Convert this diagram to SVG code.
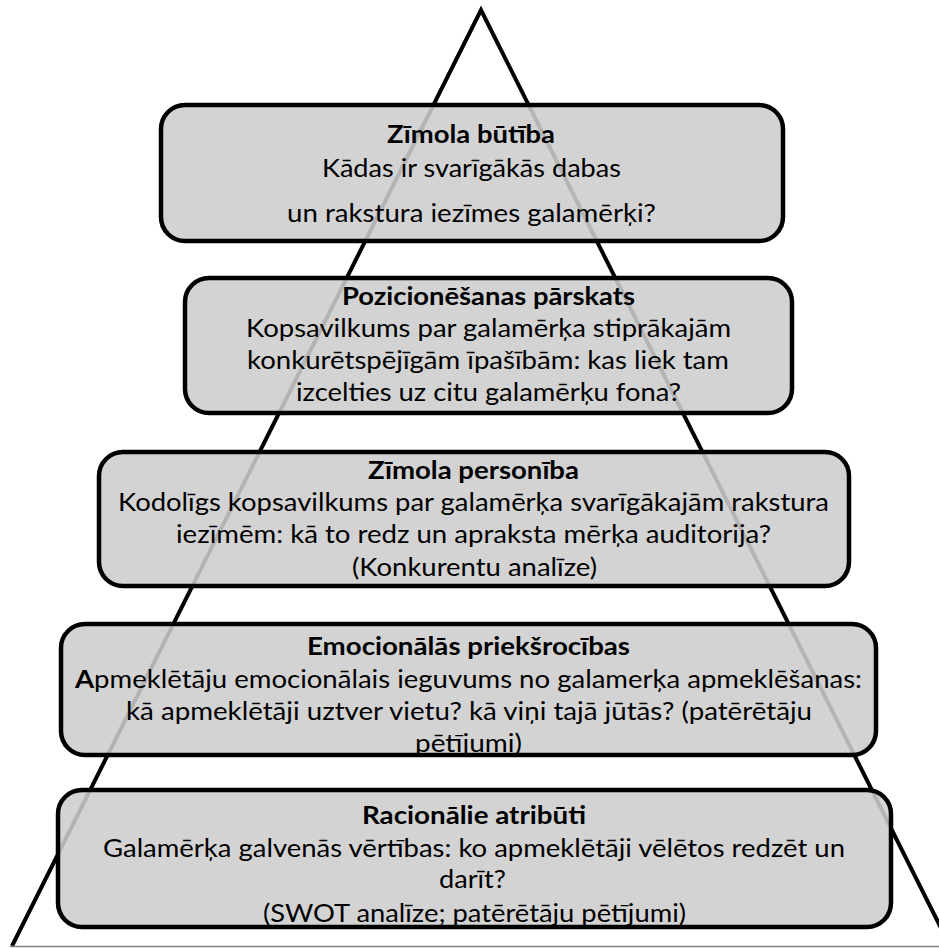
<svg xmlns="http://www.w3.org/2000/svg" width="939" height="948" viewBox="0 0 939 948">
<style>
.box{fill:#cdcdcd;fill-opacity:0.88;stroke:#000;stroke-width:4.5}
.t{font-family:Lato,"Liberation Sans",sans-serif;font-size:25px;fill:#000;text-anchor:middle}
.b{font-weight:bold}
</style>
<rect x="0" y="0" width="939" height="948" fill="#fff"/>
<g id="pyramid">
<polyline points="12,946 481,10 950,946" fill="none" stroke="#000" stroke-width="4" stroke-linejoin="miter"/>
<line x1="10" y1="946.5" x2="939" y2="946.5" stroke="#808080" stroke-width="1.5"/>
</g>
<g id="node-butiba">
<rect class="box" x="161" y="105" width="622" height="136" rx="24"/>
<text class="t b" x="471" y="143" textLength="168" lengthAdjust="spacingAndGlyphs">Zīmola būtība</text>
<text class="t" x="471.5" y="177" textLength="299" lengthAdjust="spacingAndGlyphs">Kādas ir svarīgākās dabas</text>
<text class="t" x="471.5" y="222" textLength="369" lengthAdjust="spacingAndGlyphs">un rakstura iezīmes galamērķi?</text>
</g>
<g id="node-pozicionesana">
<rect class="box" x="185" y="278" width="607" height="135" rx="24"/>
<text class="t b" x="488.5" y="305" textLength="293" lengthAdjust="spacingAndGlyphs">Pozicionēšanas pārskats</text>
<text class="t" x="488.5" y="337" textLength="485" lengthAdjust="spacingAndGlyphs">Kopsavilkums par galamērķa stiprākajām</text>
<text class="t" x="488" y="369" textLength="482" lengthAdjust="spacingAndGlyphs">konkurētspējīgām īpašībām: kas liek tam</text>
<text class="t" x="488.5" y="401" textLength="385" lengthAdjust="spacingAndGlyphs">izcelties uz citu galamērķu fona?</text>
</g>
<g id="node-personiba">
<rect class="box" x="99" y="452" width="750" height="134" rx="24"/>
<text class="t b" x="473.5" y="479" textLength="211" lengthAdjust="spacingAndGlyphs">Zīmola personība</text>
<text class="t" x="473.5" y="511" textLength="711" lengthAdjust="spacingAndGlyphs">Kodolīgs kopsavilkums par galamērķa svarīgākajām rakstura</text>
<text class="t" x="473.5" y="543" textLength="595" lengthAdjust="spacingAndGlyphs">iezīmēm: kā to redz un apraksta mērķa auditorija?</text>
<text class="t" x="474.5" y="576" textLength="245" lengthAdjust="spacingAndGlyphs">(Konkurentu analīze)</text>
</g>
<g id="node-emocionalas">
<rect class="box" x="61" y="624" width="815" height="131" rx="24"/>
<text class="t b" x="468.5" y="655" textLength="323" lengthAdjust="spacingAndGlyphs">Emocionālās priekšrocības</text>
<text class="t" x="468.5" y="688" textLength="787" lengthAdjust="spacingAndGlyphs"><tspan class="b">A</tspan>pmeklētāju emocionālais ieguvums no galamerķa apmeklēšanas:</text>
<text class="t" x="469" y="720" textLength="686" lengthAdjust="spacingAndGlyphs">kā apmeklētāji uztver vietu? kā viņi tajā jūtās? (patērētāju</text>
<text class="t" x="468.5" y="752" textLength="107" lengthAdjust="spacingAndGlyphs">pētījumi)</text>
</g>
<g id="node-racionalie">
<rect class="box" x="58" y="790" width="833" height="137" rx="24"/>
<text class="t b" x="474" y="824" textLength="224" lengthAdjust="spacingAndGlyphs">Racionālie atribūti</text>
<text class="t" x="474" y="857" textLength="742" lengthAdjust="spacingAndGlyphs">Galamērķa galvenās vērtības: ko apmeklētāji vēlētos redzēt un</text>
<text class="t" x="472.5" y="888" textLength="67" lengthAdjust="spacingAndGlyphs">darīt?</text>
<text class="t" x="474.5" y="922" textLength="423" lengthAdjust="spacingAndGlyphs">(SWOT analīze; patērētāju pētījumi)</text>
</g>
</svg>
